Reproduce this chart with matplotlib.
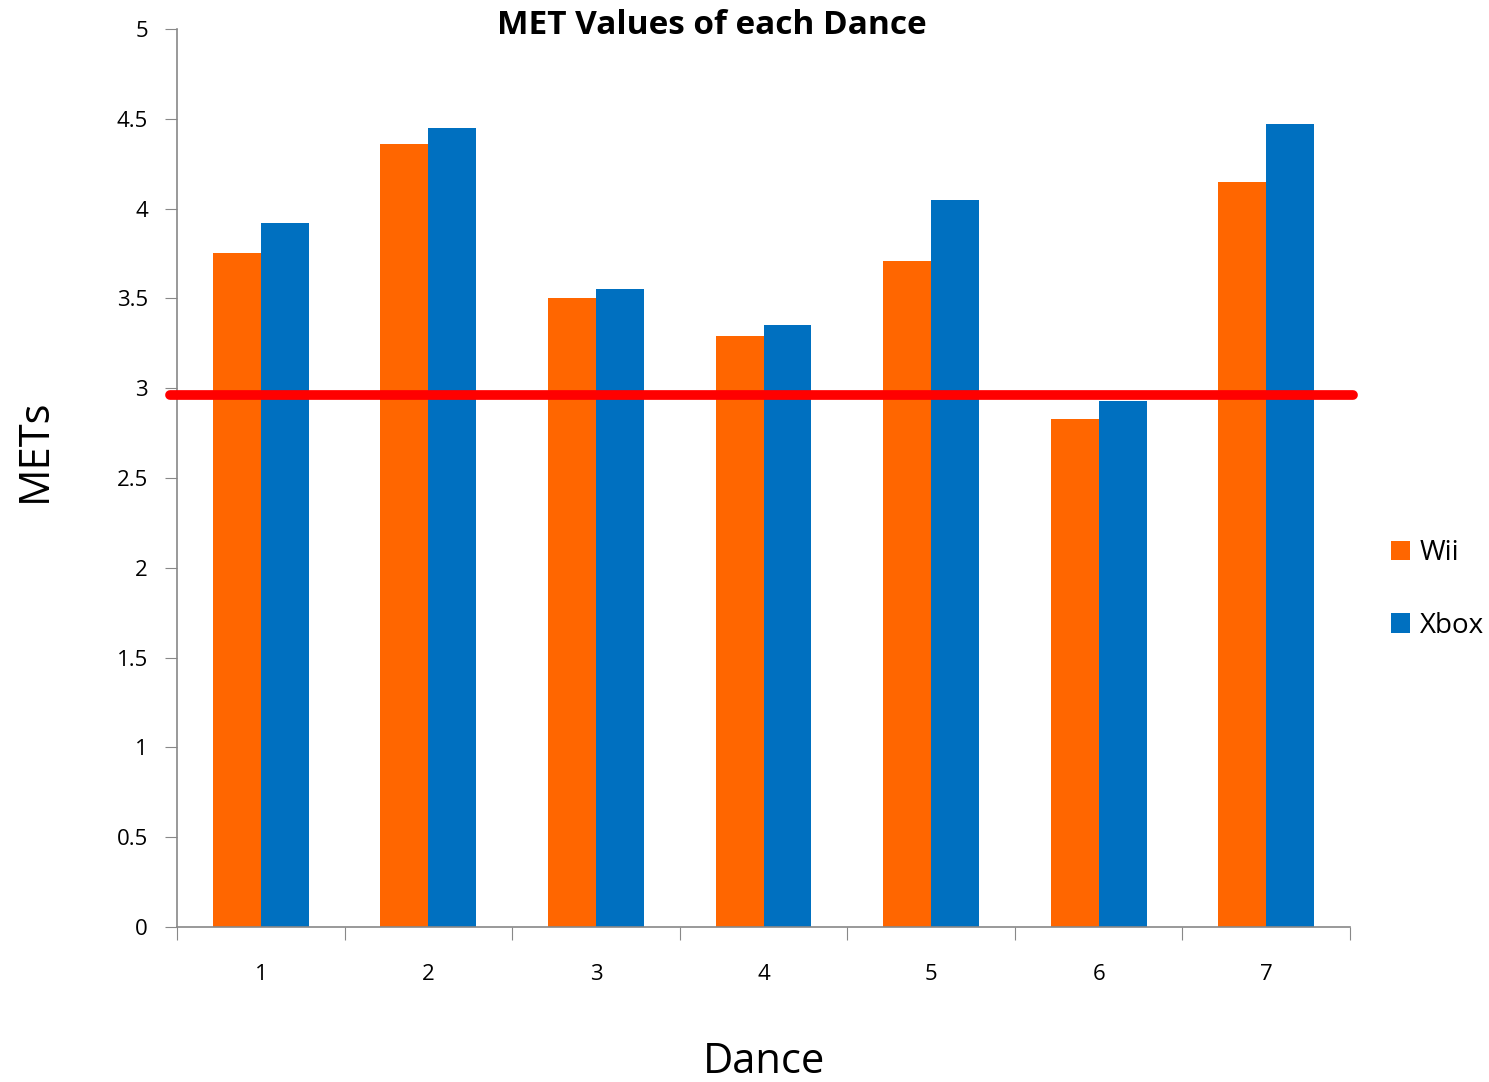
import matplotlib.pyplot as plt
import numpy as np

dances = ["1", "2", "3", "4", "5", "6", "7"]
wii = [3.75, 4.36, 3.50, 3.29, 3.71, 2.83, 4.15]
xbox = [3.92, 4.45, 3.55, 3.35, 4.05, 2.93, 4.47]
threshold = 2.96

plt.rcParams['font.family'] = ['Open Sans', 'DejaVu Sans']

fig = plt.figure(figsize=(14.89, 10.82), dpi=100)
ax = fig.add_axes([0.1189, 0.1433, 0.7878, 0.8299])

x = np.arange(len(dances))
w = 0.286
ax.bar(x - w / 2, wii, w, color='#FF6600', label='Wii')
ax.bar(x + w / 2, xbox, w, color='#0070C0', label='Xbox')

# red reference line, sticks out past the axes a little
ax.plot([-0.54, 6.52], [threshold, threshold], color='#FF0000', lw=7,
        solid_capstyle='round', clip_on=False, zorder=5)

ax.set_xlim(-0.5, 6.5)
ax.set_ylim(0, 5)
ax.set_yticks(np.arange(0, 5.01, 0.5))
ax.set_yticklabels(['0', '0.5', '1', '1.5', '2', '2.5', '3', '3.5', '4', '4.5', '5'])
ax.set_xticks(np.arange(-0.5, 6.6, 1))
ax.set_xticklabels([])
ax.set_xticks(x, minor=True)
ax.set_xticklabels(dances, minor=True)
ax.tick_params(axis='x', which='minor', length=0, pad=27, labelsize=16)
ax.tick_params(axis='x', which='major', length=9, color='#888888', direction='out')
ax.tick_params(axis='y', length=9, color='#888888', labelsize=16, pad=12)

for s in ['top', 'right']:
    ax.spines[s].set_visible(False)
for s in ['left', 'bottom']:
    ax.spines[s].set_color('#888888')
    ax.spines[s].set_linewidth(1.2)

fig.text(712 / 1489, 1 - 25 / 1082, 'MET Values of each Dance', ha='center', va='center',
         fontsize=24, fontweight='bold')
fig.text(35 / 1489, 1 - 450 / 1082, 'METs', rotation=90, ha='center', va='center', fontsize=30)
fig.text(764 / 1489, 1 - 1062 / 1082, 'Dance', ha='center', va='center', fontsize=30)

ax.legend(loc='center left', bbox_to_anchor=(1.018, 0.376), frameon=False, fontsize=20,
          handlelength=0.7, handleheight=0.7, handletextpad=0.35, labelspacing=1.6,
          borderaxespad=0.3)

fig.savefig('out.png', dpi=100)
